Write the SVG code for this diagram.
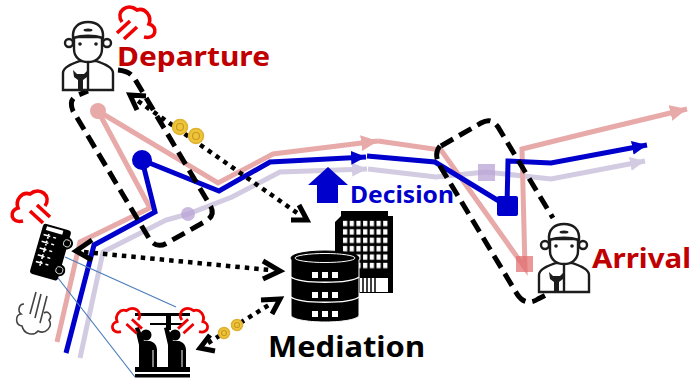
<svg xmlns="http://www.w3.org/2000/svg" width="692" height="378" viewBox="0 0 692 378">
<style>
.lbl{font-family:"Noto Sans","Liberation Sans",sans-serif;font-weight:700}
.r{fill:none;stroke-linejoin:miter}
.pk{stroke:#e8a9a9;stroke-width:5}
.bl{stroke:#0000cc;stroke-width:5}
.lv{stroke:#d2cbe2;stroke-width:5}
.dash{fill:none;stroke:#000;stroke-width:5;stroke-dasharray:14 7}
.dot{fill:none;stroke:#000;stroke-width:4.5;stroke-dasharray:4.5 5}
.head{fill:none;stroke:#000;stroke-width:5;stroke-linejoin:miter}
.cl{fill:none;stroke:#f00000;stroke-width:3.6;stroke-linecap:butt}
.wk{fill:#fff;stroke:#1c1c1c;stroke-width:2.4}
.coin{fill:#eec53a;stroke:#e0b030;stroke-width:1.5}
.cm{fill:none;stroke:#c99a20;stroke-width:1.2}
.thin{fill:none;stroke:#4a7ebb;stroke-width:1.2}
</style>
<defs>
<marker id="ap" markerUnits="userSpaceOnUse" markerWidth="20" markerHeight="20" refX="17" refY="8" orient="auto"><path d="M0 0L17 8L0 16Z" fill="#e8a9a9"/></marker>
<marker id="ab" markerUnits="userSpaceOnUse" markerWidth="20" markerHeight="20" refX="15" refY="8" orient="auto"><path d="M0 1L15 8L0 15Z" fill="#0000cc"/></marker>
<marker id="al" markerUnits="userSpaceOnUse" markerWidth="20" markerHeight="20" refX="15" refY="8" orient="auto"><path d="M0 1L15 8L0 15Z" fill="#d2cbe2"/></marker>
<pattern id="win" patternUnits="userSpaceOnUse" x="342" y="220" width="6.7" height="8.4"><rect x="1" y="0.8" width="4.2" height="5.4" fill="#fff"/></pattern>
<g id="cloud" class="cl"><path d="M5 18C-2 8 10-2 20 6C28 3 35 12 32 20C41 22 40 36 27 33"/><path d="M0 29L13 17M7 35L20 23"/></g>
<g id="worker">
<path class="wk" d="M1 70V53C1 47 10 44 18 41H34C42 44 51 47 51 53V70Z"/>
<path class="wk" d="M26 43V70" fill="none"/>
<path d="M11 50L12 57L16 60V70H21V60L25 57L26 50L22 54H15Z" fill="#1c1c1c"/>
<circle class="wk" cx="7" cy="23" r="4"/><circle class="wk" cx="45" cy="23" r="4"/>
<path class="wk" d="M12 17V29C12 38 19 42 26 42C33 42 40 38 40 29V17Z"/>
<path class="wk" d="M11 18C10 7 17 2 26 2C35 2 42 7 41 18C32 15 20 15 11 18Z"/>
<ellipse cx="26" cy="10" rx="4.5" ry="1.6" fill="#1c1c1c"/>
<circle cx="18" cy="24" r="1.8" fill="#1c1c1c"/><circle cx="34" cy="24" r="1.8" fill="#1c1c1c"/>
</g>
</defs>
<g id="connectors">
<path class="r lv" d="M80 358L103 252L166 220L188 214L232 197L280 172L367 169" marker-end="url(#al)"/>
<path class="r lv" d="M368 169L436 177L486 172L551 179L645 161" marker-end="url(#al)"/>
<path class="r pk" d="M98 111L218 183L273 154L378 141" marker-end="url(#ap)"/>
<path class="r pk" d="M98 111L150 208L80 242L57 342"/>
<path class="r pk" d="M378 141L441 150L525 268L522 149L587 133L687 109" marker-end="url(#ap)"/>
<path class="r bl" d="M142 160L219 191L270 162L366 157" marker-end="url(#ab)"/>
<path class="r bl" d="M142 160L155 212L94 245L66 353"/>
<path class="r bl" d="M367 156L435 162L507 206L508 161L551 163L647 145" marker-end="url(#ab)"/>
<path class="dash" d="M118 70C128 71 132 74 136 81L211 207C214 213 212 217 206 221L167 243C160 247 155 246 150 240L73 111C70 104 71 99 76 96L88 91"/>
<path class="dash" d="M441 146L481 123C488 119 493 120 498 127L553 218"/>
<path class="dash" d="M440 146C435 152 436 158 440 166L517 294C523 303 530 304 538 299L546 295"/>
<path class="dot" d="M138 101L300 215"/>
<path class="dot" d="M84 252L270 270"/>
<path class="dot" d="M208 343L272 303"/>
<path class="head" d="M146 96L130 95L137 110"/>
<path class="head" d="M291 220L307 220L299 205"/>
<path class="head" d="M92 240L76 251L92 260"/>
<path class="head" d="M263 261L280 271L263 279"/>
<path class="head" d="M215 351L200 348L210 335"/>
<path class="head" d="M261 300L280 299L272 314"/>
<path class="thin" d="M65 257L176 307M58 278L135 377"/>
</g>
<g id="markers">
<circle cx="98" cy="111" r="8" fill="#e8a9a9"/>
<circle cx="142" cy="160" r="10" fill="#0000cc"/>
<circle cx="188" cy="214" r="7" fill="#b9a3d6" fill-opacity=".75"/>
<rect x="478" y="164" width="17" height="17" fill="#b9a3d6" fill-opacity=".75"/>
<rect x="497" y="196" width="21" height="20" rx="2" fill="#0000cc"/>
<rect x="516" y="256" width="17" height="16" fill="#e26b6b" fill-opacity=".7"/>
</g>
<g id="coins">
<circle class="coin" cx="180" cy="127" r="7.5"/><circle class="cm" cx="180" cy="127" r="3.5"/>
<circle class="coin" cx="196" cy="136" r="7.5"/><circle class="cm" cx="196" cy="136" r="3.5"/>
<circle class="coin" cx="224" cy="333" r="5.5"/><circle class="cm" cx="224" cy="333" r="2.5"/>
<circle class="coin" cx="237" cy="325" r="5.5"/><circle class="cm" cx="237" cy="325" r="2.5"/>
</g>
<g id="departure">
<use href="#worker" x="62" y="20"/>
<use href="#cloud" transform="translate(117 4)"/>
<text class="lbl" x="117" y="66" font-size="26" fill="#c00000" textLength="153" lengthAdjust="spacingAndGlyphs">Departure</text>
</g>
<g id="arrival">
<use href="#worker" x="538" y="222"/>
<text class="lbl" x="592" y="268" font-size="27" fill="#c00000" textLength="99" lengthAdjust="spacingAndGlyphs">Arrival</text>
</g>
<g id="decision">
<path d="M328 167L348 185H338V203H317V185H308Z" fill="#0000cc"/>
<text class="lbl" x="350" y="203" font-size="23" fill="#0000cc" textLength="104" lengthAdjust="spacingAndGlyphs">Decision</text>
</g>
<g id="mediation">
<path d="M341 211H388V216H393V293H335V222L341 216Z" fill="#000"/>
<rect x="342" y="220" width="47" height="50" fill="url(#win)"/>
<path d="M360 278h28v14h-28z" fill="#fff"/><path d="M363 278v14M367 278v14M371 278v14M375 278v14" stroke="#000" stroke-width="1.5"/>
<path d="M291 258V315C291 319 306 322 325 322C344 322 359 319 359 315V258Z" fill="#000" stroke="#fff" stroke-width="1"/>
<ellipse cx="325" cy="258" rx="34" ry="7" fill="#000" stroke="#000"/>
<ellipse cx="325" cy="258" rx="30" ry="4.5" fill="none" stroke="#fff" stroke-width="1"/>
<path d="M291 277C300 284 350 284 359 277M291 297C300 304 350 304 359 297" fill="none" stroke="#fff" stroke-width="1.5"/>
<path d="M312 272h6v6h-6zM322 272h6v6h-6zM332 272h6v6h-6zM312 292h6v6h-6zM322 292h6v6h-6zM332 292h6v6h-6zM312 311h6v6h-6zM322 311h6v6h-6zM332 311h6v6h-6z" fill="#fff"/>
<text class="lbl" x="268" y="357" font-size="29" fill="#000" textLength="157" lengthAdjust="spacingAndGlyphs">Mediation</text>
</g>
<g id="bus">
<g transform="translate(50 252) rotate(16)">
<rect x="-14" y="-26" width="29" height="52" rx="3" fill="#000"/>
<rect x="-10" y="-24" width="17" height="4" fill="#fff"/>
<path d="M-11-15h7M-11-8h7M-11-1h7M-11 6h7M-11 13h7M-6-17v5M-6-10v5M-6-3v5M-6 4v5M-6 11v5" stroke="#fff" stroke-width="1.6" fill="none"/>
<path d="M-1-15h3M-1-8h3M-1-1h3M-1 6h3M-1 13h3" stroke="#fff" stroke-width="1.4" fill="none"/>
<circle cx="14" cy="-13" r="6" fill="#000"/>
<circle cx="14" cy="15" r="6" fill="#000"/>
<circle cx="14" cy="-13" r="3.5" fill="none" stroke="#fff" stroke-width=".8"/>
<circle cx="14" cy="15" r="3.5" fill="none" stroke="#fff" stroke-width=".8"/>
</g>
<use href="#cloud" transform="translate(50 188) scale(-1 1)"/>
</g>
<g id="smoke">
<path d="M24 304C18 304 18 312 21 314C15 315 15 325 22 326C24 335 34 336 38 331C46 335 53 326 49 320C53 316 48 310 44 313" fill="none" stroke="#444" stroke-width="1.6"/>
<path d="M36 292L30 314M41 294L35 318M47 296L40 323" fill="none" stroke="#444" stroke-width="1.6"/>
</g>
<g id="crew">
<rect x="135" y="313" width="55" height="3" fill="#000"/>
<rect x="150" y="323" width="32" height="2" fill="#000"/>
<rect x="166" y="313" width="5" height="17" fill="#000"/>
<circle cx="146" cy="335" r="5.5" fill="#000"/><circle cx="175" cy="335" r="5.5" fill="#000"/>
<path d="M135 328L139 327L144 341H150C154 342 157 345 157 350V367H139V345Z" fill="#000"/>
<path d="M164 328L168 327L173 341H179C183 342 186 345 186 350V367H168V345Z" fill="#000"/>
<path d="M153 350V367M182 350V367" stroke="#fff" stroke-width="1"/>
<rect x="135" y="367" width="55" height="5" fill="#000"/>
<rect x="135" y="374" width="55" height="3.5" fill="#000"/>
<use href="#cloud" transform="translate(142 306) scale(-.78 .78)"/>
<use href="#cloud" transform="translate(178 306) scale(.78)"/>
</g>
</svg>
